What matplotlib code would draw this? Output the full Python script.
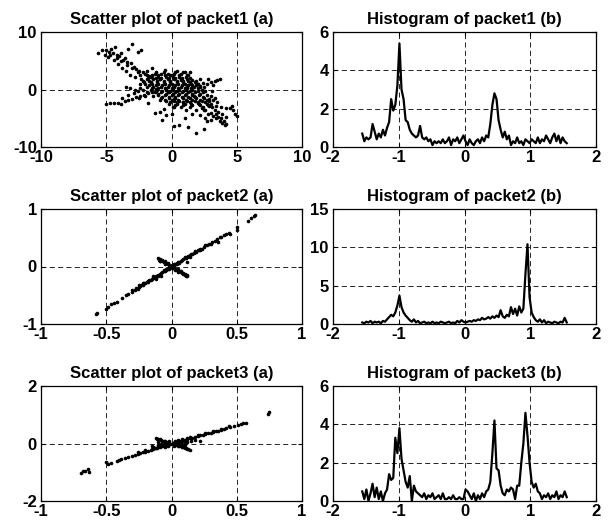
import matplotlib
matplotlib.use('Agg')
import matplotlib.pyplot as plt
import numpy as np

plt.rcParams['font.family'] = ['Liberation Sans', 'DejaVu Sans']
plt.rcParams['font.weight'] = 'bold'
plt.rcParams['font.size'] = 12
plt.rcParams['axes.unicode_minus'] = False

# packet1 scatter: (x, y) samples
pkt1Pts = [
    # upper-left arm
    (-5.6, 6.4), (-5.3, 6.9), (-5.1, 6.0), (-4.9, 5.6), (-4.8, 6.6), (-4.6, 7.1), (-4.5, 6.3), (-4.3, 7.4),
    (-4.2, 6.0), (-4.0, 5.8), (-3.9, 6.4), (-3.7, 5.2), (-3.6, 5.5), (-3.4, 4.7), (-3.3, 7.0), (-3.1, 4.6),
    (-3.0, 8.0), (-2.9, 4.0), (-2.7, 3.6), (-2.6, 6.5), (-2.5, 3.3), (-2.3, 6.8), (-2.2, 3.0), (-2.0, 2.7),
    (-1.9, 3.2), (-1.7, 2.4), (-1.5, 2.1), (-4.1, 4.4), (-3.8, 3.8), (-3.5, 3.2), (-3.2, 2.6), (-2.8, 2.2),
    (-3.5, 0.5), (-3.2, 0.2), (-2.8, 0.0), (-2.4, 0.3), (-4.4, 5.1), (-3.9, 4.9), (-5.0, 6.8), (-4.7, 6.0),
    (-4.2, 5.4), (-3.4, 4.2), (-3.0, 3.8), (-2.6, 3.0), (-2.4, 2.6),
    # lower-left arm
    (-5.0, -2.6), (-4.7, -2.4), (-4.4, -2.3), (-4.1, -2.3), (-3.9, -2.5), (-3.6, -2.0), (-3.3, -1.8),
    (-3.0, -1.6), (-2.7, -1.3), (-2.4, -1.1), (-2.1, -0.9), (-1.8, -0.6), (-1.5, -0.4), (-3.3, -1.0),
    (-2.9, -0.6), (-2.6, -0.3), (-2.2, -0.1), (-2.5, -1.4), (-2.0, -1.2), (-3.8, -1.5),
    # lower-right arm
    (2.5, -3.6), (2.8, -4.2), (3.0, -4.0), (3.2, -4.6), (3.4, -5.0), (3.6, -4.8), (3.7, -5.4), (3.9, -5.8),
    (4.0, -5.5), (4.1, -6.2), (4.2, -6.0), (3.3, -3.5), (3.6, -3.9), (3.9, -4.3), (4.2, -4.8), (2.6, -4.9),
    (3.0, -5.3), (3.4, -4.2), (3.8, -5.0),
    (3.0, -2.5), (3.4, -2.8), (3.8, -3.0), (4.2, -3.2), (4.5, -3.3), (4.7, -3.6), (4.9, -4.2), (5.0, -4.6),
    (4.6, -2.9),
    # upper-right arm
    (1.6, 0.7), (2.0, 0.9), (2.4, 1.1), (2.7, 1.0), (3.0, 1.3), (3.3, 1.5), (3.5, 1.6), (3.7, 1.8),
    (2.2, 1.8), (2.8, 1.9), (1.4, 3.0), (1.3, 2.6), (3.0, -1.2), (3.2, -1.9), (2.9, -1.6), (3.1, -0.3),
    (2.5, 0.4), (3.2, 0.8),
    # cloud fringe
    (-2.3, 1.9), (-2.4, 0.9), (-1.9, -0.4), (-1.4, -1.1), (-0.9, -1.9), (-0.6, -3.4), (0.1, -3.1),
    (0.9, -2.2), (-0.5, 3.4), (0.4, 3.3), (1.0, 3.1), (-1.9, 2.6), (1.6, 1.6), (2.2, 0.6), (2.6, -0.2),
    (3.3, -1.5), (3.5, -2.2), (2.9, -2.9), (2.3, -3.3), (-1.2, 0.1), (-0.3, -0.4), (0.7, 1.6),
    (1.7, -1.2), (0.2, -1.7), (-0.9, 1.9), (1.2, 0.3), (2.0, -2.3), (-0.1, 2.6),
    # stray points
    (-0.7, -5.3), (-1.3, -4.0), (-0.4, -4.5), (0.2, -6.3), (0.6, -6.2), (1.3, -6.6), (1.9, -7.6), (2.5, -6.8),
    (2.7, -5.4), (1.0, -5.0), (0.0, -4.2), (-0.9, -3.9), (2.2, -4.5), (1.6, -4.3), (-1.8, -2.4), (-1.5, 3.8),
]

# packet1 central cloud, stored row by row as (y, [x, ...])
pkt1Cloud = [
    (3.0, [-1.2, -0.6, 0.3, 0.9]),
    (2.75, [-1.3, -0.8, -0.3, 0.2, 0.7]),
    (2.5, [-1.5, -1.0, -0.5, 0.0, 0.6, 1.2]),
    (2.25, [-1.6, -1.0, -0.4, 0.1, 0.6, 1.1]),
    (2.0, [-1.8, -1.2, -0.8, -0.2, 0.3, 0.8, 1.4]),
    (1.75, [-1.9, -1.4, -0.9, -0.3, 0.2, 0.7, 1.2]),
    (1.5, [-2.2, -1.7, -1.1, -0.6, -0.1, 0.4, 0.9, 1.3, 1.9]),
    (1.25, [-2.1, -1.6, -1.1, -0.6, -0.1, 0.4, 0.9, 1.4, 1.8]),
    (1.0, [-2.0, -1.5, -1.0, -0.5, 0.0, 0.5, 1.0, 1.5, 2.0]),
    (0.75, [-1.7, -1.2, -0.7, -0.2, 0.3, 0.8, 1.3, 1.9]),
    (0.5, [-1.9, -1.4, -0.8, -0.3, 0.2, 0.7, 1.2, 1.7, 2.2]),
    (0.25, [-1.5, -1.0, -0.5, 0.0, 0.5, 1.0, 1.5, 2.0]),
    (0.0, [-1.6, -1.1, -0.4, 0.1, 0.6, 1.1, 1.6, 2.3]),
    (-0.25, [-1.2, -0.7, -0.1, 0.4, 0.9, 1.4, 2.0, 2.5]),
    (-0.5, [-1.3, -0.8, -0.2, 0.3, 0.8, 1.3, 1.8, 2.4]),
    (-0.75, [-1.0, -0.4, 0.1, 0.6, 1.1, 1.6, 2.2]),
    (-1.0, [-1.0, -0.5, 0.0, 0.5, 1.0, 1.6, 2.1, 2.7]),
    (-1.25, [-0.7, -0.2, 0.3, 0.8, 1.3, 1.8, 2.4]),
    (-1.5, [-0.8, -0.2, 0.3, 0.9, 1.4, 1.9, 2.5]),
    (-1.75, [-0.5, 0.0, 0.5, 1.1, 1.6, 2.2, 2.7]),
    (-2.0, [-0.4, 0.2, 0.6, 1.2, 1.8, 2.3, 2.9]),
    (-2.25, [-0.1, 0.4, 0.9, 1.4, 2.0, 2.6]),
    (-2.5, [-0.2, 0.4, 1.0, 1.5, 2.1, 2.7]),
    (-2.75, [0.3, 0.9, 1.6, 2.2, 2.8]),
    (-3.0, [0.2, 0.7, 1.4, 2.4, 3.1]),
    (-3.5, [1.1, 1.9, 2.6]),
]

# packet2 scatter
pkt2Pts = [
    (-0.58, -0.83), (-0.57, -0.80), (-0.50, -0.74), (-0.49, -0.71), (-0.46, -0.66), (-0.44, -0.64),
    (-0.42, -0.61), (-0.38, -0.54), (-0.35, -0.50), (-0.33, -0.47), (-0.30, -0.44), (-0.28, -0.41),
    (-0.27, -0.37), (-0.26, -0.39), (-0.25, -0.36), (-0.24, -0.34), (-0.23, -0.33), (-0.22, -0.32),
    (-0.21, -0.29), (-0.20, -0.29), (-0.19, -0.27), (-0.18, -0.25), (-0.17, -0.24), (-0.16, -0.23),
    (-0.15, -0.21), (-0.14, -0.20), (-0.13, -0.18), (-0.12, -0.17), (-0.11, -0.16), (-0.10, -0.14),
    (-0.09, -0.13), (-0.08, -0.11), (-0.07, -0.10), (-0.06, -0.08), (-0.05, -0.07), (-0.04, -0.06),
    (-0.03, -0.04), (-0.02, -0.03), (-0.01, -0.01), (0.00, 0.00), (0.01, 0.01), (0.02, 0.03),
    (0.03, 0.04), (0.04, 0.06), (0.05, 0.07), (0.06, 0.08), (0.07, 0.10), (0.08, 0.11), (0.09, 0.13),
    (0.10, 0.14), (0.11, 0.15), (0.12, 0.17), (0.13, 0.18), (0.14, 0.20), (0.15, 0.21), (0.16, 0.22),
    (0.17, 0.24), (0.18, 0.25), (0.19, 0.26), (0.20, 0.28), (0.21, 0.29), (0.22, 0.31), (0.23, 0.31),
    (0.25, 0.34), (0.27, 0.37), (0.29, 0.40), (0.31, 0.43), (0.33, 0.45), (0.35, 0.48), (0.37, 0.51),
    (0.38, 0.52), (0.40, 0.55), (0.42, 0.57), (0.44, 0.58), (0.45, 0.57), (0.50, 0.69), (0.50, 0.64),
    (0.59, 0.80), (0.61, 0.84), (0.63, 0.88), (0.64, 0.90), (-0.08, -0.16), (-0.12, -0.21), (0.12, 0.08),
    (0.36, 0.42),
    (-0.30, -0.41), (-0.25, -0.33), (-0.22, -0.29), (-0.18, -0.27), (-0.14, -0.17), (-0.10, -0.16),
    (-0.06, -0.06), (-0.02, -0.05), (0.02, 0.05), (0.06, 0.06), (0.10, 0.16), (0.14, 0.17),
    (0.18, 0.27), (0.22, 0.29), (0.26, 0.38), (0.30, 0.40),
    # crossing stroke
    (-0.10, 0.14), (-0.09, 0.13), (-0.08, 0.11), (-0.07, 0.10), (-0.06, 0.08), (-0.05, 0.07),
    (-0.04, 0.06), (-0.03, 0.04), (-0.02, 0.03), (-0.01, 0.01), (0.01, -0.02), (0.02, -0.03),
    (0.03, -0.04), (0.04, -0.06), (0.05, -0.07), (0.06, -0.08), (0.07, -0.10), (0.08, -0.11),
    (0.09, -0.13), (0.10, -0.14), (0.11, -0.16), (0.12, -0.17), (-0.095, 0.12), (-0.085, 0.09),
    (0.105, -0.13), (0.115, -0.15),
    (-0.09, 0.10), (-0.07, 0.12), (-0.05, 0.09), (-0.03, 0.06), (0.03, -0.06), (0.05, -0.09),
    (0.07, -0.08), (0.09, -0.11), (-0.05, 0.05), (0.05, -0.05), (0.04, 0.04), (-0.04, -0.04),
    (0.02, 0.01), (-0.02, -0.01), (0.00, 0.02), (0.00, -0.02),
]

# packet3 scatter
pkt3Pts = [
    (-0.69, -1.02), (-0.68, -0.97), (-0.66, -0.95), (-0.64, -0.87), (-0.63, -0.99), (-0.50, -0.64),
    (-0.49, -0.70), (-0.46, -0.69), (-0.42, -0.62), (-0.40, -0.57), (-0.39, -0.54), (-0.36, -0.50),
    (-0.33, -0.46), (-0.30, -0.42), (-0.28, -0.40), (-0.26, -0.37), (-0.24, -0.33), (-0.22, -0.31),
    (-0.20, -0.29), (-0.18, -0.26), (-0.16, -0.23), (-0.15, -0.20), (-0.14, -0.18), (-0.13, -0.17),
    (-0.12, -0.15), (-0.11, -0.14), (-0.10, -0.13), (-0.09, -0.12), (-0.08, -0.10), (-0.07, -0.09),
    (-0.06, -0.08), (-0.05, -0.06), (-0.04, -0.05), (-0.03, -0.04), (-0.02, -0.03), (-0.01, -0.01),
    (0.00, 0.00), (0.01, 0.01), (0.02, 0.03), (0.03, 0.04), (0.04, 0.05), (0.05, 0.07), (0.06, 0.08),
    (0.07, 0.09), (0.08, 0.10), (0.09, 0.12), (0.10, 0.13), (0.12, 0.15), (0.14, 0.18), (0.16, 0.20),
    (0.18, 0.23), (0.20, 0.26), (0.22, 0.28), (0.24, 0.30), (0.26, 0.33), (0.28, 0.35), (0.30, 0.38),
    (0.32, 0.40), (0.34, 0.42), (0.36, 0.45), (0.38, 0.48), (0.40, 0.50), (0.42, 0.53), (0.45, 0.56),
    (0.48, 0.60), (0.51, 0.63), (0.53, 0.67), (0.55, 0.70), (0.57, 0.73), (0.74, 1.03), (0.75, 1.08),
    (0.22, 0.08), (0.10, 0.05), (-0.10, -0.05),
    (-0.26, -0.30), (-0.20, -0.22), (-0.14, -0.12), (-0.08, -0.04), (0.08, 0.14), (0.14, 0.22),
    (0.20, 0.30), (0.26, 0.36), (0.32, 0.44), (0.38, 0.52), (0.44, 0.60), (0.12, 0.20),
    # crossing stroke
    (-0.12, 0.20), (-0.11, 0.17), (-0.10, 0.15), (-0.09, 0.14), (-0.08, 0.12), (-0.07, 0.10),
    (-0.06, 0.09), (-0.05, 0.07), (-0.04, 0.06), (-0.03, 0.04), (-0.02, 0.03), (0.02, -0.03),
    (0.03, -0.05), (0.04, -0.06), (0.05, -0.07), (0.06, -0.09), (0.07, -0.10), (0.08, -0.12),
    (0.09, -0.13), (0.10, -0.15), (0.11, -0.16), (0.12, -0.18), (0.13, -0.19), (0.14, -0.21),
    # dense middle
    (-0.08, 0.00), (-0.06, -0.02), (-0.04, 0.02), (0.04, -0.02), (0.06, 0.02), (0.08, 0.00),
    (-0.03, -0.08), (0.03, 0.08), (0.05, 0.12), (-0.05, -0.12), (0.12, 0.05), (0.15, 0.07),
    (0.18, 0.12), (-0.15, -0.08), (-0.02, 0.08), (0.02, -0.08), (-0.10, 0.05), (0.10, -0.05),
]

# histogram curves, 100 bins over [-pi/2, pi/2]
hist1 = [0.7, 0.3, 0.5, 0.4, 0.5, 1.2, 0.8, 0.4, 0.7, 0.5,
         0.9, 0.6, 1.0, 1.3, 2.5, 1.9, 2.2, 3.2, 5.4, 3.0,
         2.5, 1.4, 1.3, 0.9, 0.7, 0.6, 0.5, 0.6, 1.1, 0.5,
         0.4, 0.5, 0.3, 0.4, 0.1, 0.3, 0.2, 0.3, 0.2, 0.4,
         0.2, 0.3, 0.5, 0.1, 0.4, 0.3, 0.5, 0.2, 0.4, 0.6,
         0.3, 0.1, 0.4, 0.2, 0.1, 0.3, 0.4, 0.2, 0.5, 0.3,
         0.6, 0.5, 1.2, 2.2, 2.8, 2.5, 1.4, 0.9, 0.5, 0.8,
         0.4, 0.6, 0.1, 0.3, 0.2, 0.5, 0.2, 0.3, 0.1, 0.4,
         0.3, 0.2, 0.4, 0.3, 0.2, 0.5, 0.2, 0.4, 0.3, 0.6,
         0.4, 0.2, 0.5, 0.7, 0.3, 0.6, 0.2, 0.5, 0.3, 0.2]
hist2 = [0.2, 0.1, 0.3, 0.2, 0.4, 0.1, 0.3, 0.2, 0.3, 0.1,
         0.4, 0.3, 0.6, 0.9, 1.2, 1.0, 1.5, 2.4, 3.7, 2.2,
         1.5, 1.1, 0.8, 0.5, 0.3, 0.6, 0.2, 0.4, 0.1, 0.2,
         0.3, 0.1, 0.2, 0.1, 0.3, 0.1, 0.2, 0.1, 0.3, 0.2,
         0.1, 0.2, 0.3, 0.1, 0.2, 0.1, 0.4, 0.2, 0.5, 0.3,
         0.2, 0.3, 0.4, 0.3, 0.5, 0.4, 0.6, 0.5, 0.8, 0.6,
         0.7, 0.9, 0.7, 1.0, 0.8, 1.1, 0.9, 1.8, 1.0, 0.8,
         1.2, 1.0, 2.2, 1.3, 2.0, 1.1, 2.3, 1.5, 2.0, 6.5,
         10.4, 3.5, 1.5, 0.9, 0.5, 0.3, 0.6, 0.2, 0.5, 0.1,
         0.3, 0.2, 0.1, 0.3, 0.2, 0.1, 0.3, 0.2, 0.8, 0.2]
hist3 = [0.5, 0.1, 0.6, 0.0, 0.4, 0.9, 0.2, 0.7, 0.1, 0.5,
         0.0, 0.4, 0.6, 1.4, 1.1, 1.2, 3.3, 2.5, 3.8, 2.2,
         1.6, 1.0, 0.7, 1.3, 0.0, 0.8, 0.5, 0.4, 0.3, 0.2,
         0.4, 0.1, 0.3, 0.2, 0.4, 0.1, 0.2, 0.3, 0.1, 0.4,
         0.1, 0.1, 0.2, 0.1, 0.3, 0.1, 0.1, 0.2, 0.1, 0.1,
         0.6, 0.5, 0.3, 0.1, 0.4, 0.0, 0.3, 0.1, 0.4, 0.2,
         0.5, 0.6, 1.0, 2.5, 4.2, 1.7, 1.6, 0.8, 0.4, 0.3,
         0.6, 0.5, 0.7, 0.6, 0.1, 0.8, 0.8, 2.0, 3.0, 4.6,
         3.4, 2.0, 1.0, 0.7, 0.9, 0.5, 0.4, 0.1, 0.3, 0.2,
         0.4, 0.1, 0.3, 0.2, 0.5, 0.1, 0.3, 0.2, 0.5, 0.2]

scatterTitles = ['Scatter plot of packet1 (a)', 'Scatter plot of packet2 (a)', 'Scatter plot of packet3 (a)']
histTitles = ['Histogram of packet1 (b)', 'Histogram of packet2 (b)', 'Histogram of packet3 (b)']
scatterXticks = [[-10, -5, 0, 5, 10], [-1, -0.5, 0, 0.5, 1], [-1, -0.5, 0, 0.5, 1]]
scatterYticks = [[-10, 0, 10], [-1, 0, 1], [-2, 0, 2]]
histXticks = [-2, -1, 0, 1, 2]
histYticks = [[0, 2, 4, 6], [0, 5, 10, 15], [0, 2, 4, 6]]


def StyleAxes(ax, xticks, yticks):
    ax.set_xlim(xticks[0], xticks[-1])
    ax.set_ylim(yticks[0], yticks[-1])
    ax.set_xticks(xticks, [f'{v:g}' for v in xticks])
    ax.set_yticks(yticks, [f'{v:g}' for v in yticks])
    ax.tick_params(direction='in', length=3, width=0.8, top=True, right=True)
    ax.tick_params(axis='x', pad=2)
    ax.tick_params(axis='y', pad=3)
    ax.grid(True, color='k', linestyle=(0, (6, 4)), linewidth=0.6)
    ax.set_axisbelow(False)
    for s in ax.spines.values():
        s.set_linewidth(0.9)


# expand the row-stored cloud into the packet1 point list
for yv, xsRow in pkt1Cloud:
    for xv in xsRow:
        pkt1Pts.append((xv, yv))

fig = plt.figure(figsize=(6.1, 5.25), dpi=100)
W, H = 610.0, 525.0
rowTops = [32, 209, 386]
axH = 115
leftX, leftW = 41, 261
rightX, rightW = 333, 263

pts = [pkt1Pts, pkt2Pts, pkt3Pts]
hists = [hist1, hist2, hist3]
for r in range(3):
    bottom = (H - rowTops[r] - axH) / H
    ax = fig.add_axes([leftX / W, bottom, leftW / W, axH / H])
    xs = [p[0] for p in pts[r]]
    ys = [p[1] for p in pts[r]]
    ax.plot(xs, ys, linestyle='none', marker='o', ms=2.6, mfc='k', mec='k', mew=0)
    StyleAxes(ax, scatterXticks[r], scatterYticks[r])
    ax.set_title(scatterTitles[r], fontsize=12, fontweight='bold', pad=6)

    ax = fig.add_axes([rightX / W, bottom, rightW / W, axH / H])
    vals = hists[r]
    bins = np.linspace(-1.555, 1.555, len(vals))
    ax.plot(bins, vals, color='k', linewidth=1.6)
    StyleAxes(ax, histXticks, histYticks[r])
    ax.set_title(histTitles[r], fontsize=12, fontweight='bold', pad=6)

fig.savefig('out.png', dpi=100)
